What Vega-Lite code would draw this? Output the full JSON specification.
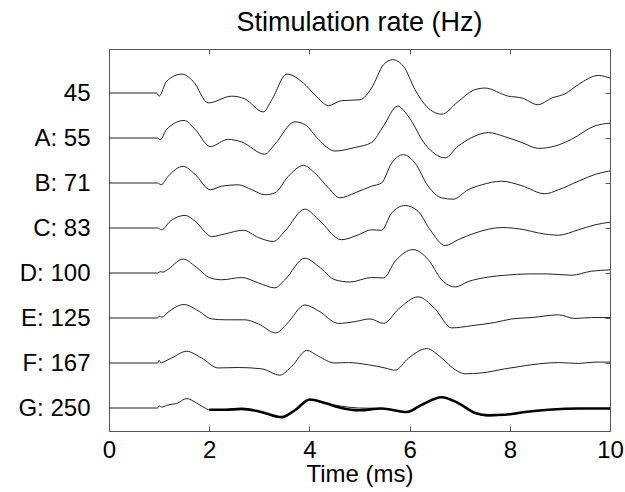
{
  "$schema": "https://vega.github.io/schema/vega-lite/v6.json",
  "width": 501,
  "height": 382,
  "autosize": {"type": "none"},
  "padding": {"left": 109, "top": 49, "right": 15, "bottom": 61},
  "background": "white",
  "config": {
    "font": "Liberation Sans",
    "view": {"stroke": "#555", "strokeWidth": 1}
  },
  "title": {"text": "Stimulation rate (Hz)", "fontSize": 27, "fontWeight": "normal", "color": "#000", "anchor": "middle", "offset": 12},
  "data": {"values": [
    {"s":"45","t":0,"v":7},{"s":"45","t":0.95,"v":7},{"s":"45","t":1.0,"v":6.93},{"s":"45","t":1.15,"v":7.26},{"s":"45","t":1.45,"v":7.42},{"s":"45","t":1.68,"v":7.26},{"s":"45","t":1.98,"v":6.78},{"s":"45","t":2.45,"v":6.93},{"s":"45","t":2.71,"v":6.87},{"s":"45","t":3.08,"v":6.58},{"s":"45","t":3.25,"v":6.85},{"s":"45","t":3.55,"v":7.42},{"s":"45","t":3.88,"v":7.22},{"s":"45","t":4.11,"v":6.96},{"s":"45","t":4.38,"v":6.72},{"s":"45","t":4.64,"v":6.83},{"s":"45","t":5.01,"v":6.85},{"s":"45","t":5.24,"v":7.11},{"s":"45","t":5.48,"v":7.63},{"s":"45","t":5.66,"v":7.74},{"s":"45","t":5.88,"v":7.59},{"s":"45","t":6.11,"v":7.07},{"s":"45","t":6.34,"v":6.70},{"s":"45","t":6.64,"v":6.53},{"s":"45","t":6.97,"v":6.81},{"s":"45","t":7.27,"v":7.06},{"s":"45","t":7.5,"v":7.11},{"s":"45","t":7.97,"v":6.93},{"s":"45","t":8.24,"v":6.89},{"s":"45","t":8.56,"v":6.74},{"s":"45","t":8.84,"v":6.89},{"s":"45","t":9.1,"v":6.98},{"s":"45","t":9.37,"v":7.19},{"s":"45","t":9.77,"v":7.39},{"s":"45","t":10,"v":7.33},
    {"s":"A: 55","t":0,"v":6},{"s":"A: 55","t":0.97,"v":6},{"s":"A: 55","t":1.02,"v":5.96},{"s":"A: 55","t":1.15,"v":6.19},{"s":"A: 55","t":1.5,"v":6.39},{"s":"A: 55","t":1.72,"v":6.19},{"s":"A: 55","t":2.02,"v":5.81},{"s":"A: 55","t":2.38,"v":5.97},{"s":"A: 55","t":2.65,"v":5.91},{"s":"A: 55","t":3.11,"v":5.64},{"s":"A: 55","t":3.31,"v":5.86},{"s":"A: 55","t":3.71,"v":6.36},{"s":"A: 55","t":3.91,"v":6.30},{"s":"A: 55","t":4.18,"v":5.97},{"s":"A: 55","t":4.51,"v":5.71},{"s":"A: 55","t":4.91,"v":5.79},{"s":"A: 55","t":5.24,"v":5.90},{"s":"A: 55","t":5.48,"v":6.27},{"s":"A: 55","t":5.76,"v":6.71},{"s":"A: 55","t":5.97,"v":6.49},{"s":"A: 55","t":6.31,"v":5.86},{"s":"A: 55","t":6.71,"v":5.56},{"s":"A: 55","t":6.97,"v":5.82},{"s":"A: 55","t":7.24,"v":6.01},{"s":"A: 55","t":7.57,"v":6.12},{"s":"A: 55","t":7.9,"v":6.03},{"s":"A: 55","t":8.24,"v":5.90},{"s":"A: 55","t":8.57,"v":5.77},{"s":"A: 55","t":8.9,"v":5.82},{"s":"A: 55","t":9.23,"v":5.97},{"s":"A: 55","t":9.7,"v":6.27},{"s":"A: 55","t":10,"v":6.33},
    {"s":"B: 71","t":0,"v":5},{"s":"B: 71","t":0.97,"v":5},{"s":"B: 71","t":1.04,"v":4.96},{"s":"B: 71","t":1.18,"v":5.15},{"s":"B: 71","t":1.48,"v":5.37},{"s":"B: 71","t":1.72,"v":5.19},{"s":"B: 71","t":2.02,"v":4.85},{"s":"B: 71","t":2.25,"v":4.93},{"s":"B: 71","t":2.58,"v":4.96},{"s":"B: 71","t":2.85,"v":4.85},{"s":"B: 71","t":3.11,"v":4.74},{"s":"B: 71","t":3.31,"v":4.78},{"s":"B: 71","t":3.58,"v":5.15},{"s":"B: 71","t":3.88,"v":5.39},{"s":"B: 71","t":4.11,"v":5.22},{"s":"B: 71","t":4.38,"v":4.89},{"s":"B: 71","t":4.61,"v":4.67},{"s":"B: 71","t":4.91,"v":4.78},{"s":"B: 71","t":5.24,"v":4.93},{"s":"B: 71","t":5.44,"v":5.0},{"s":"B: 71","t":5.64,"v":5.44},{"s":"B: 71","t":5.88,"v":5.63},{"s":"B: 71","t":6.11,"v":5.44},{"s":"B: 71","t":6.37,"v":4.93},{"s":"B: 71","t":6.64,"v":4.67},{"s":"B: 71","t":6.87,"v":4.64},{"s":"B: 71","t":7.17,"v":4.85},{"s":"B: 71","t":7.44,"v":4.96},{"s":"B: 71","t":7.84,"v":5.04},{"s":"B: 71","t":8.24,"v":4.94},{"s":"B: 71","t":8.7,"v":4.76},{"s":"B: 71","t":8.97,"v":4.85},{"s":"B: 71","t":9.37,"v":5.04},{"s":"B: 71","t":9.7,"v":5.19},{"s":"B: 71","t":10,"v":5.27},
    {"s":"C: 83","t":0,"v":4},{"s":"C: 83","t":0.97,"v":4},{"s":"C: 83","t":1.05,"v":3.96},{"s":"C: 83","t":1.22,"v":4.15},{"s":"C: 83","t":1.52,"v":4.28},{"s":"C: 83","t":1.72,"v":4.15},{"s":"C: 83","t":2.05,"v":3.81},{"s":"C: 83","t":2.32,"v":3.87},{"s":"C: 83","t":2.68,"v":3.95},{"s":"C: 83","t":2.98,"v":3.79},{"s":"C: 83","t":3.28,"v":3.70},{"s":"C: 83","t":3.51,"v":3.93},{"s":"C: 83","t":3.91,"v":4.42},{"s":"C: 83","t":4.18,"v":4.19},{"s":"C: 83","t":4.64,"v":3.74},{"s":"C: 83","t":4.98,"v":3.85},{"s":"C: 83","t":5.24,"v":3.96},{"s":"C: 83","t":5.44,"v":3.95},{"s":"C: 83","t":5.64,"v":4.33},{"s":"C: 83","t":5.91,"v":4.50},{"s":"C: 83","t":6.17,"v":4.37},{"s":"C: 83","t":6.41,"v":3.96},{"s":"C: 83","t":6.71,"v":3.61},{"s":"C: 83","t":6.97,"v":3.74},{"s":"C: 83","t":7.31,"v":3.89},{"s":"C: 83","t":7.84,"v":4.01},{"s":"C: 83","t":8.3,"v":3.96},{"s":"C: 83","t":8.57,"v":3.89},{"s":"C: 83","t":8.97,"v":3.84},{"s":"C: 83","t":9.37,"v":3.96},{"s":"C: 83","t":9.7,"v":4.07},{"s":"C: 83","t":10,"v":4.13},
    {"s":"D: 100","t":0,"v":3},{"s":"D: 100","t":0.97,"v":3},{"s":"D: 100","t":1.02,"v":3.03},{"s":"D: 100","t":1.08,"v":3.02},{"s":"D: 100","t":1.15,"v":3.06},{"s":"D: 100","t":1.48,"v":3.31},{"s":"D: 100","t":1.72,"v":3.15},{"s":"D: 100","t":2.02,"v":2.89},{"s":"D: 100","t":2.25,"v":2.85},{"s":"D: 100","t":2.65,"v":2.90},{"s":"D: 100","t":2.98,"v":2.78},{"s":"D: 100","t":3.31,"v":2.67},{"s":"D: 100","t":3.51,"v":2.85},{"s":"D: 100","t":3.91,"v":3.33},{"s":"D: 100","t":4.18,"v":3.15},{"s":"D: 100","t":4.51,"v":2.85},{"s":"D: 100","t":4.81,"v":2.80},{"s":"D: 100","t":5.24,"v":2.90},{"s":"D: 100","t":5.48,"v":2.89},{"s":"D: 100","t":5.71,"v":3.26},{"s":"D: 100","t":6.07,"v":3.52},{"s":"D: 100","t":6.37,"v":3.30},{"s":"D: 100","t":6.64,"v":2.85},{"s":"D: 100","t":6.91,"v":2.69},{"s":"D: 100","t":7.17,"v":2.81},{"s":"D: 100","t":7.57,"v":2.91},{"s":"D: 100","t":7.9,"v":2.95},{"s":"D: 100","t":8.37,"v":2.98},{"s":"D: 100","t":8.77,"v":2.98},{"s":"D: 100","t":9.23,"v":2.95},{"s":"D: 100","t":9.63,"v":3.04},{"s":"D: 100","t":10,"v":3.07},
    {"s":"E: 125","t":0,"v":2},{"s":"E: 125","t":0.97,"v":2},{"s":"E: 125","t":1.0,"v":2.04},{"s":"E: 125","t":1.06,"v":2.02},{"s":"E: 125","t":1.18,"v":2.13},{"s":"E: 125","t":1.5,"v":2.30},{"s":"E: 125","t":1.78,"v":2.16},{"s":"E: 125","t":2.05,"v":1.98},{"s":"E: 125","t":2.32,"v":1.96},{"s":"E: 125","t":2.71,"v":1.96},{"s":"E: 125","t":2.98,"v":1.87},{"s":"E: 125","t":3.33,"v":1.67},{"s":"E: 125","t":3.55,"v":1.87},{"s":"E: 125","t":3.91,"v":2.29},{"s":"E: 125","t":4.18,"v":2.16},{"s":"E: 125","t":4.58,"v":1.88},{"s":"E: 125","t":4.91,"v":1.92},{"s":"E: 125","t":5.21,"v":1.98},{"s":"E: 125","t":5.48,"v":1.88},{"s":"E: 125","t":5.78,"v":2.20},{"s":"E: 125","t":6.17,"v":2.47},{"s":"E: 125","t":6.51,"v":2.20},{"s":"E: 125","t":6.84,"v":1.78},{"s":"E: 125","t":7.24,"v":1.83},{"s":"E: 125","t":7.7,"v":1.90},{"s":"E: 125","t":8.04,"v":1.98},{"s":"E: 125","t":8.44,"v":2.01},{"s":"E: 125","t":8.97,"v":2.07},{"s":"E: 125","t":9.3,"v":1.99},{"s":"E: 125","t":9.63,"v":2.01},{"s":"E: 125","t":10,"v":2.01},
    {"s":"F: 167","t":0,"v":1},{"s":"F: 167","t":0.97,"v":1},{"s":"F: 167","t":1.0,"v":1.06},{"s":"F: 167","t":1.04,"v":1.0},{"s":"F: 167","t":1.08,"v":1.02},{"s":"F: 167","t":1.25,"v":1.11},{"s":"F: 167","t":1.55,"v":1.26},{"s":"F: 167","t":1.85,"v":1.11},{"s":"F: 167","t":2.18,"v":0.89},{"s":"F: 167","t":2.58,"v":0.90},{"s":"F: 167","t":3.05,"v":0.87},{"s":"F: 167","t":3.41,"v":0.73},{"s":"F: 167","t":3.65,"v":0.93},{"s":"F: 167","t":3.95,"v":1.28},{"s":"F: 167","t":4.18,"v":1.15},{"s":"F: 167","t":4.51,"v":1.0},{"s":"F: 167","t":4.78,"v":1.01},{"s":"F: 167","t":5.18,"v":0.96},{"s":"F: 167","t":5.51,"v":0.89},{"s":"F: 167","t":5.71,"v":0.84},{"s":"F: 167","t":5.98,"v":1.11},{"s":"F: 167","t":6.34,"v":1.32},{"s":"F: 167","t":6.64,"v":1.11},{"s":"F: 167","t":6.91,"v":0.85},{"s":"F: 167","t":7.11,"v":0.76},{"s":"F: 167","t":7.44,"v":0.78},{"s":"F: 167","t":7.9,"v":0.87},{"s":"F: 167","t":8.3,"v":0.94},{"s":"F: 167","t":8.57,"v":0.98},{"s":"F: 167","t":8.97,"v":1.01},{"s":"F: 167","t":9.37,"v":0.99},{"s":"F: 167","t":9.7,"v":1.02},{"s":"F: 167","t":10,"v":1.02},
    {"s":"G: 250","t":0,"v":0},{"s":"G: 250","t":0.97,"v":0},{"s":"G: 250","t":1.0,"v":0.05},{"s":"G: 250","t":1.05,"v":0.02},{"s":"G: 250","t":1.18,"v":0.07},{"s":"G: 250","t":1.35,"v":0.10},{"s":"G: 250","t":1.55,"v":0.21},{"s":"G: 250","t":1.75,"v":0.11},{"s":"G: 250","t":1.95,"v":-0.02},{"s":"G: 250","t":2.02,"v":-0.05},{"s":"G: 250","t":2.32,"v":-0.04},{"s":"G: 250","t":2.65,"v":-0.01},{"s":"G: 250","t":2.98,"v":-0.08},{"s":"G: 250","t":3.45,"v":-0.22},{"s":"G: 250","t":3.71,"v":-0.06},{"s":"G: 250","t":4.01,"v":0.18},{"s":"G: 250","t":4.31,"v":0.11},{"s":"G: 250","t":4.64,"v":0.04},{"s":"G: 250","t":4.98,"v":0.0},{"s":"G: 250","t":5.44,"v":-0.01},{"s":"G: 250","t":5.94,"v":-0.10},{"s":"G: 250","t":6.24,"v":0.06},{"s":"G: 250","t":6.64,"v":0.24},{"s":"G: 250","t":6.97,"v":0.11},{"s":"G: 250","t":7.31,"v":-0.11},{"s":"G: 250","t":7.57,"v":-0.18},{"s":"G: 250","t":7.9,"v":-0.15},{"s":"G: 250","t":8.3,"v":-0.09},{"s":"G: 250","t":8.77,"v":-0.04},{"s":"G: 250","t":9.37,"v":-0.01},{"s":"G: 250","t":10,"v":-0.01},
    {"s":"G: 250 (avg)","t":2.0,"v":-0.04},{"s":"G: 250 (avg)","t":2.32,"v":-0.04},{"s":"G: 250 (avg)","t":2.65,"v":-0.02},{"s":"G: 250 (avg)","t":2.98,"v":-0.07},{"s":"G: 250 (avg)","t":3.45,"v":-0.20},{"s":"G: 250 (avg)","t":3.71,"v":-0.05},{"s":"G: 250 (avg)","t":4.01,"v":0.19},{"s":"G: 250 (avg)","t":4.31,"v":0.11},{"s":"G: 250 (avg)","t":4.64,"v":0.0},{"s":"G: 250 (avg)","t":4.98,"v":-0.05},{"s":"G: 250 (avg)","t":5.44,"v":-0.01},{"s":"G: 250 (avg)","t":5.94,"v":-0.09},{"s":"G: 250 (avg)","t":6.24,"v":0.07},{"s":"G: 250 (avg)","t":6.64,"v":0.24},{"s":"G: 250 (avg)","t":6.97,"v":0.11},{"s":"G: 250 (avg)","t":7.31,"v":-0.11},{"s":"G: 250 (avg)","t":7.57,"v":-0.16},{"s":"G: 250 (avg)","t":7.9,"v":-0.15},{"s":"G: 250 (avg)","t":8.3,"v":-0.09},{"s":"G: 250 (avg)","t":8.77,"v":-0.04},{"s":"G: 250 (avg)","t":9.37,"v":-0.01},{"s":"G: 250 (avg)","t":10,"v":-0.01}
  ]},
  "layer": [
    {
      "transform": [{"filter": "datum.s !== 'G: 250 (avg)'"}],
      "mark": {"type": "line", "color": "#222", "strokeWidth": 1, "interpolate": "monotone", "clip": true},
      "encoding": {
        "x": {"field": "t", "type": "quantitative",
              "scale": {"domain": [0, 10], "nice": false, "zero": false},
              "axis": {"orient": "bottom", "values": [0, 2, 4, 6, 8, 10], "tickSize": -5, "tickColor": "#555", "domain": false, "grid": false,
                       "labelFontSize": 24, "labelColor": "#000", "labelPadding": 12, "labelFlush": false,
                       "title": "Time (ms)", "titleFontSize": 24, "titleFontWeight": "normal", "titleColor": "#000", "titlePadding": 0}},
        "y": {"field": "v", "type": "quantitative",
              "scale": {"domain": [-0.511, 7.978], "nice": false, "zero": false},
              "axis": {"orient": "left", "values": [0, 1, 2, 3, 4, 5, 6, 7], "ticks": false, "domain": false, "grid": false,
                       "labelFontSize": 24, "labelColor": "#000", "labelPadding": 19,
                       "labelExpr": "['G: 250','F: 167','E: 125','D: 100','C: 83','B: 71','A: 55','45'][datum.value]",
                       "title": null}},
        "detail": {"field": "s", "type": "nominal"}
      }
    },
    {
      "transform": [{"filter": "datum.s === 'G: 250 (avg)'"}],
      "mark": {"type": "line", "color": "#000", "strokeWidth": 2.6, "interpolate": "monotone", "clip": true},
      "encoding": {
        "x": {"field": "t", "type": "quantitative",
              "axis": {"orient": "top", "values": [0, 2, 4, 6, 8, 10], "tickSize": -5, "tickColor": "#555", "labels": false, "domain": false, "grid": false, "title": null}},
        "y": {"field": "v", "type": "quantitative",
              "axis": {"orient": "right", "values": [0, 1, 2, 3, 4, 5, 6, 7], "tickSize": -5, "tickColor": "#555", "labels": false, "domain": false, "grid": false, "title": null}}
      }
    }
  ],
  "resolve": {"axis": {"x": "independent", "y": "independent"}}
}
